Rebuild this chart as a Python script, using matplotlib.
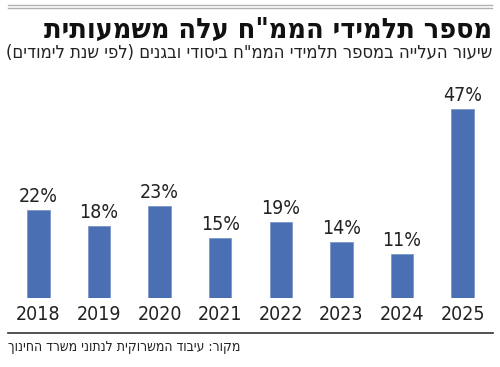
import matplotlib
matplotlib.use('Agg')
import matplotlib.pyplot as plt
from matplotlib.lines import Line2D
from matplotlib import font_manager
import numpy as np

# data
years = ['2018', '2019', '2020', '2021', '2022', '2023', '2024', '2025']
growth = [22, 18, 23, 15, 19, 14, 11, 47]

title = 'מספר תלמידי הממ"ח עלה משמעותית'
subtitle = 'שיעור העלייה במספר תלמידי הממ"ח ביסודי ובגנים (לפי שנת לימודים)'
source = 'מקור: עיבוד המשרוקית לנתוני משרד החינוך'


def rtl(s):
    # matplotlib has no bidi, so flip the string and mirror the brackets
    s = s[::-1]
    return s.translate(str.maketrans('()', ')('))


# look for a condensed face, the original uses a narrow font
narrow = [f.name for f in font_manager.fontManager.ttflist
          if 'Condensed' in f.name or 'Narrow' in f.name or f.stretch in ('condensed', 'semi-condensed', 500 - 100)]
fam = ['DejaVu Sans']
if narrow:
    fam = [narrow[0], 'DejaVu Sans']
plt.rcParams['font.family'] = fam
plt.rcParams['font.stretch'] = 'condensed'
txt = '#222222'
blue = '#4a6fb3'

fig = plt.figure(figsize=(5, 3.67), dpi=100)
W, H = 500, 367
renderer = fig.canvas.get_renderer()


def fit(t, width_px):
    # shrink/grow a text until it spans width_px
    w = t.get_window_extent(renderer).width
    t.set_fontsize(t.get_fontsize() * width_px / w)


# axes in pixel terms: x 8..493, y 100..298 (from top)
ax = fig.add_axes([8 / W, (H - 298) / H, 485 / W, 198 / H])
x = np.arange(len(years))
ax.bar(x, growth, width=0.37, color=blue, edgecolor='#7d97c8', linewidth=0.6)
for xi, v in zip(x, growth):
    ax.text(xi, v + 1.0, '%d%%' % v, ha='center', va='bottom', fontsize=14, color=txt)

ax.set_xlim(-0.5, len(years) - 0.5)
ax.set_ylim(0, 49.25)
ax.set_xticks(x)
ax.set_xticklabels(years, fontsize=14, color=txt)
ax.tick_params(axis='x', length=0, pad=5)
ax.set_yticks([])
for sp in ax.spines.values():
    sp.set_visible(False)

# header rules
for yy in (4.5, 7.5):
    fig.add_artist(Line2D([8 / W, 492 / W], [1 - yy / H, 1 - yy / H], color='#b0b0b0', lw=1.0))

t1 = fig.text(492 / W, 1 - 30 / H, rtl(title), ha='right', va='center', fontsize=20,
              fontweight='bold', color='#111111')
fit(t1, 444)
t2 = fig.text(492 / W, 1 - 53 / H, rtl(subtitle), ha='right', va='center', fontsize=13,
              color=txt)
fit(t2, 484)

# footer
fig.add_artist(Line2D([8 / W, 493 / W], [1 - 332.5 / H, 1 - 332.5 / H], color='#333333', lw=1.2))
t3 = fig.text(8 / W, 1 - 347 / H, rtl(source), ha='left', va='center', fontsize=10.5, color=txt)
fit(t3, 235)

fig.savefig('out.png', dpi=100)
